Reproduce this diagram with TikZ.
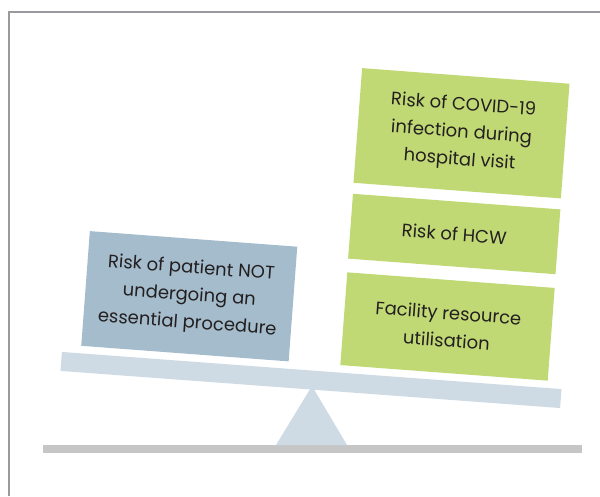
\documentclass[tikz,border=0pt]{standalone}
\usepackage{fontspec}
\setmainfont{Poppins}
\usetikzlibrary{calc}
\definecolor{boxgreen}{HTML}{C1D975}
\definecolor{boxblue}{HTML}{A4BCCB}
\definecolor{beamblue}{HTML}{CFDBE4}
\definecolor{groundgray}{HTML}{C6C6C6}
\definecolor{framegray}{HTML}{9A9A9E}
\definecolor{txt}{HTML}{231F20}
\tikzset{
  riskbox/.style={rotate=-4.3, minimum width=208pt, inner sep=0pt, align=center,
    text=txt, font=\fontsize{18}{27.5}\selectfont},
  greenbox/.style={riskbox, fill=boxgreen},
  bluebox/.style={riskbox, fill=boxblue},
}
\begin{document}
\begin{tikzpicture}[x=1pt,y=1pt]
\useasboundingbox (0,0) rectangle (600,496);
% frame
\draw[framegray, line width=1.6pt] (9,0) -- (9,484) -- (600,484);
% ground
\node[fill=groundgray, minimum width=539pt, minimum height=8pt, inner sep=0pt] (ground) at (312.5,47) {};
% fulcrum
\coordinate (fl) at (276,51);
\coordinate (fr) at (347,51);
\coordinate (apex) at (312,110);
\fill[beamblue] (fl) -- (apex) -- (fr) -- cycle;
% beam
\node[fill=beamblue, rotate=-4.25, minimum width=501pt, minimum height=19pt, inner sep=0pt] (beam) at (311,116) {};
% boxes
\node[bluebox, minimum height=115pt] (patient) at (189.25,199.75) {Risk of patient NOT\\undergoing an\\essential procedure};
\node[greenbox, minimum height=115pt] (covid) at (461.5,362.75) {Risk of COVID-19\\infection during\\hospital visit};
\node[greenbox, minimum height=65pt] (hcw) at (454.25,262) {Risk of HCW};
\node[greenbox, minimum height=93pt] (facility) at (447.5,169.5) {Facility resource\\utilisation};
\end{tikzpicture}
\end{document}
